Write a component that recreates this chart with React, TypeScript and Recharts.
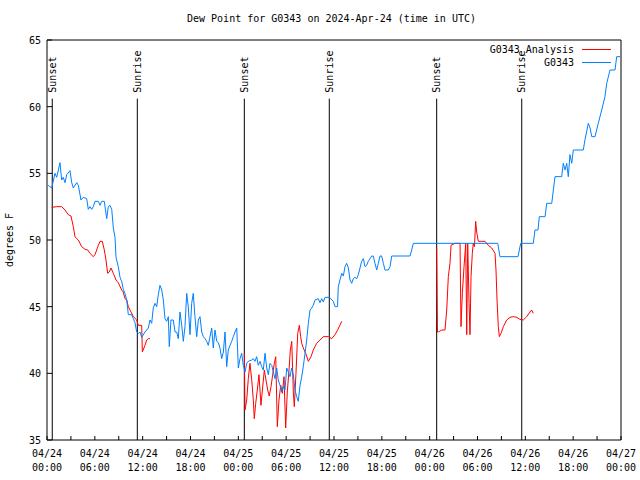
import { LineChart, Line, XAxis, YAxis, ReferenceLine, Legend } from 'recharts';

const FONT = '"DejaVu Sans Mono", monospace';

// hours since 2024-04-24 00:00 UTC, dew point in F
const g0343: [number, number][] = [
  [0.16, 54.1], [0.59, 53.9], [1.0, 55.0], [1.22, 54.7], [1.63, 55.8], [1.84, 54.5], [2.04, 54.7], [2.26, 54.3],
  [2.47, 54.9], [2.89, 55.2], [3.1, 54.3], [3.3, 53.9], [3.73, 54.3], [3.93, 54.1], [4.26, 53.0], [4.55, 53.2],
  [4.98, 53.1], [5.18, 52.3], [5.39, 52.5], [5.61, 52.3], [5.81, 52.5], [6.02, 52.9], [6.44, 52.9], [6.65, 52.6],
  [6.86, 52.9], [7.19, 52.9], [7.49, 51.6], [7.69, 52.5], [7.9, 52.6], [8.12, 52.3], [8.32, 50.9], [8.53, 50.2],
  [8.66, 48.7], [8.94, 48.0], [9.16, 47.2], [9.37, 46.9], [9.57, 46.3], [9.78, 46.0], [10.0, 45.5], [10.2, 44.4],
  [10.62, 44.4], [10.83, 44.1], [11.04, 43.8], [11.25, 43.1], [11.45, 43.0], [11.67, 43.1], [11.88, 42.7], [12.29, 43.1],
  [12.71, 43.4], [12.92, 44.0], [13.13, 43.75], [13.33, 44.9], [13.55, 45.25], [13.76, 45.0], [13.96, 45.9], [14.17, 46.6],
  [14.39, 46.25], [14.59, 45.5], [14.8, 44.1], [15.01, 43.9], [15.22, 44.25], [15.34, 42.0], [15.55, 44.0], [15.84, 44.0],
  [16.06, 43.1], [16.27, 43.1], [16.47, 42.6], [16.68, 44.6], [16.9, 43.6], [17.1, 42.4], [17.31, 43.5], [17.52, 46.0],
  [17.72, 45.0], [17.94, 42.9], [18.15, 45.25], [18.35, 46.0], [18.56, 44.25], [18.78, 42.75], [18.98, 44.0], [19.19, 44.25],
  [19.41, 43.1], [19.61, 42.75], [19.82, 42.6], [20.03, 42.4], [20.23, 42.1], [20.45, 42.75], [20.66, 43.4], [20.86, 41.9],
  [21.07, 43.25], [21.29, 42.4], [21.49, 42.3], [21.7, 41.9], [21.91, 41.1], [22.12, 41.6], [22.33, 43.1], [22.54, 40.5],
  [22.74, 41.75], [22.96, 42.1], [23.17, 42.4], [23.37, 42.75], [23.58, 43.1], [23.8, 43.4], [24.0, 40.4], [24.21, 41.1],
  [24.42, 41.5], [24.62, 40.6], [24.84, 40.1], [25.05, 40.75], [25.25, 40.9], [25.68, 41.0], [25.88, 41.1], [26.09, 40.9],
  [26.3, 41.25], [26.5, 40.6], [26.72, 40.9], [26.93, 40.5], [27.13, 40.25], [27.35, 41.5], [27.56, 40.4], [27.76, 39.9],
  [27.97, 40.75], [28.19, 40.6], [28.39, 40.1], [28.6, 39.6], [28.81, 40.4], [29.01, 39.5], [29.23, 39.1], [29.44, 38.6],
  [29.64, 39.0], [29.85, 38.75], [30.07, 40.4], [30.27, 40.1], [30.48, 39.75], [30.69, 40.4], [30.9, 39.9], [31.11, 38.75],
  [31.32, 38.25], [31.52, 37.9], [31.74, 39.1], [31.95, 39.75], [32.15, 40.5], [32.36, 41.5], [32.58, 42.5], [32.78, 43.75],
  [32.99, 44.75], [33.2, 44.9], [33.4, 45.1], [33.62, 45.5], [34.03, 45.6], [34.24, 45.3], [34.46, 45.6], [34.66, 45.35],
  [34.87, 45.7], [35.41, 45.7], [35.91, 45.4], [36.13, 45.0], [36.44, 45.0], [36.54, 46.5], [36.75, 47.0], [36.97, 47.5],
  [37.17, 47.3], [37.38, 48.0], [37.59, 48.25], [37.8, 47.9], [38.01, 47.0], [38.22, 46.75], [38.42, 47.1], [38.63, 47.2],
  [38.85, 47.1], [39.05, 47.4], [39.26, 47.9], [39.47, 48.4], [39.68, 48.6], [39.89, 48.0], [40.1, 48.1], [40.3, 48.4],
  [40.52, 48.6], [40.73, 48.8], [40.93, 48.8], [41.14, 48.25], [41.36, 47.75], [41.56, 48.25], [41.77, 48.8], [41.98, 48.8],
  [42.19, 48.25], [42.4, 47.75], [42.81, 47.75], [43.03, 48.0], [43.24, 48.8], [45.53, 48.8], [45.75, 49.25], [45.95, 49.75],
  [56.54, 49.75], [56.82, 48.75], [59.08, 48.75], [59.42, 49.75], [61.0, 49.75], [61.21, 50.75], [61.59, 50.75], [61.75, 51.75],
  [62.47, 51.75], [62.68, 52.75], [63.31, 52.75], [63.72, 54.75], [64.56, 54.75], [64.76, 55.75], [64.98, 55.25], [65.19, 55.75],
  [65.39, 54.75], [65.6, 56.4], [65.82, 55.75], [66.02, 56.75], [67.27, 56.75], [67.48, 57.5], [67.9, 58.75], [68.12, 58.4],
  [68.33, 57.75], [68.74, 57.75], [69.15, 58.75], [69.58, 59.75], [69.99, 60.75], [70.21, 61.75], [70.62, 62.75], [71.25, 62.75],
  [71.46, 63.75], [71.88, 63.75],
];

const analysisDay1: [number, number][] = [
  [0.59, 52.45], [1.22, 52.5], [1.84, 52.5], [2.26, 52.25], [2.67, 51.9], [3.01, 51.8], [3.3, 51.0], [3.51, 50.25],
  [3.73, 50.1], [3.93, 50.0], [4.35, 49.5], [4.77, 49.3], [5.11, 49.25], [5.39, 49.0], [5.81, 48.75], [6.02, 48.9],
  [6.23, 49.25], [6.44, 49.6], [6.65, 49.9], [6.94, 49.9], [7.19, 49.25], [7.4, 48.5], [7.61, 47.5], [7.81, 47.6],
  [8.03, 47.9], [8.32, 47.5], [8.66, 47.0], [8.94, 46.8], [9.37, 46.25], [9.57, 46.1], [9.78, 45.6], [10.0, 45.5],
  [10.2, 45.0], [10.41, 44.75], [10.83, 44.25], [11.25, 44.0], [11.45, 43.6], [11.88, 43.6], [11.96, 41.6], [12.29, 42.1],
  [12.51, 42.5], [12.71, 42.6], [12.92, 42.6],
];

const analysisDay2: [number, number][] = [
  [24.75, 41.5], [24.84, 37.25], [25.05, 38.0], [25.25, 39.6], [25.46, 40.75], [25.68, 39.5], [25.88, 38.0], [26.0, 36.6],
  [26.18, 37.75], [26.38, 38.75], [26.59, 39.9], [26.84, 37.6], [27.06, 39.0], [27.26, 40.25], [27.47, 39.5], [27.68, 38.75],
  [27.88, 38.3], [28.1, 39.0], [28.31, 39.9], [28.51, 40.75], [28.69, 41.25], [28.89, 36.0], [29.1, 38.0], [29.32, 39.1],
  [29.52, 38.5], [29.73, 39.75], [29.94, 35.9], [30.14, 38.6], [30.36, 40.25], [30.52, 41.75], [30.7, 42.4], [30.9, 38.6],
  [31.02, 37.5], [31.23, 40.0], [31.45, 43.0], [31.65, 43.6], [31.82, 42.75], [31.95, 42.25], [32.15, 41.9], [32.45, 41.5],
  [32.78, 40.9], [33.12, 41.25], [33.4, 41.75], [33.83, 42.25], [34.24, 42.5], [34.66, 42.75], [35.29, 42.75], [35.71, 42.6],
  [36.13, 42.9], [36.5, 43.3], [36.97, 43.9],
];

const analysisDay3: [number, number][] = [
  [48.88, 49.4], [48.98, 43.1], [49.09, 43.1], [49.51, 43.25], [49.92, 43.25], [50.14, 44.75], [50.34, 47.25], [50.55, 48.25],
  [50.68, 49.6], [51.18, 49.75], [51.81, 49.75], [51.93, 43.5], [52.1, 46.0], [52.31, 48.0], [52.52, 49.75], [52.65, 42.9],
  [52.77, 49.75], [52.94, 45.25], [53.06, 42.9], [53.19, 47.25], [53.35, 49.0], [53.47, 49.75], [53.62, 49.5], [53.77, 51.4],
  [53.9, 50.6], [54.1, 49.9], [54.52, 49.9], [54.94, 49.9], [55.36, 49.6], [55.78, 49.4], [56.2, 49.0], [56.32, 47.75],
  [56.45, 45.5], [56.61, 43.5], [56.74, 42.75], [56.95, 43.0], [57.24, 43.5], [57.66, 44.0], [58.08, 44.2], [58.5, 44.25],
  [58.92, 44.2], [59.33, 44.05], [59.75, 44.0], [60.17, 44.25], [60.59, 44.6], [60.79, 44.75], [61.0, 44.5],
];

const sunEvents: [string, number][] = [
  ['Sunset', 0.66], ['Sunrise', 11.33], ['Sunset', 24.75], ['Sunrise', 35.41], ['Sunset', 48.88], ['Sunrise', 59.55],
];

const xTicks = [0, 3, 6, 9, 12, 15, 18, 21, 24, 27, 30, 33, 36, 39, 42, 45, 48, 51, 54, 57, 60, 63, 66, 69, 72];
const yTicks = [35, 40, 45, 50, 55, 60, 65];
const legendOrder = ['G0343_Analysis', 'G0343'];

const toPoints = (pairs: [number, number][]) => pairs.map(([t, v]) => ({ t, v }));

const blueData = toPoints(g0343);
const redData = [
  ...toPoints(analysisDay1),
  { t: 18, v: null },
  ...toPoints(analysisDay2),
  { t: 42, v: null },
  ...toPoints(analysisDay3),
];

function TimeTick({ x, y, payload }: any) {
  const t = payload.value;
  if (t % 6 !== 0) return null;
  const day = 24 + Math.floor(t / 24);
  const hour = String(t % 24).padStart(2, '0');
  return (
    <g fontFamily={FONT} fontSize={10} fill="#000">
      <text x={x} y={y + 17} textAnchor="middle">{`04/${day}`}</text>
      <text x={x} y={y + 31} textAnchor="middle">{`${hour}:00`}</text>
    </g>
  );
}

function ValueTick({ x, y, payload }: any) {
  return (
    <text x={x} y={y} dy={4} textAnchor="end" fontFamily={FONT} fontSize={10} fill="#000">
      {payload.value}
    </text>
  );
}

function SunLabel({ viewBox, text }: any) {
  if (!viewBox) return null;
  const x = viewBox.x;
  const y = viewBox.y - 6;
  return (
    <text x={x} y={y} transform={`rotate(-90, ${x}, ${y})`} textAnchor="start" dominantBaseline="central"
      fontFamily={FONT} fontSize={10} fill="#000">
      {text}
    </text>
  );
}

function LegendBox({ payload }: any) {
  const items = [...(payload || [])].sort(
    (a: any, b: any) => legendOrder.indexOf(a.value) - legendOrder.indexOf(b.value),
  );
  return (
    <div style={{ fontFamily: FONT, fontSize: 10, color: '#000' }}>
      {items.map((p: any) => (
        <div key={p.value} style={{ display: 'flex', alignItems: 'center', height: 13 }}>
          <span style={{ width: 574, textAlign: 'right', lineHeight: '13px', whiteSpace: 'pre' }}>{p.value}</span>
          <span style={{ marginLeft: 8, width: 29, height: 0, borderTop: `1px solid ${p.color}` }} />
        </div>
      ))}
    </div>
  );
}

export default function App() {
  return (
    <div style={{ position: 'absolute', left: 0, top: 0, width: 640, height: 480, background: '#fff' }}>
      <div style={{ position: 'absolute', left: 0, top: 12, width: 663, textAlign: 'center', fontFamily: FONT, fontSize: 10, lineHeight: '14px', whiteSpace: 'pre' }}>
        Dew Point for G0343 on 2024-Apr-24 (time in UTC)
      </div>
      <div style={{ position: 'absolute', left: -40, top: 233, width: 100, textAlign: 'center', transform: 'rotate(-90deg)', fontFamily: FONT, fontSize: 10, lineHeight: '14px' }}>
        degrees F
      </div>
      <LineChart width={640} height={480} margin={{ top: 40, right: 19, bottom: 0, left: 0 }}>
        <XAxis dataKey="t" type="number" domain={[0, 72]} ticks={xTicks} height={40} stroke="#000"
          tickSize={-4} tickMargin={4} tick={<TimeTick />} interval={0} allowDataOverflow />
        <XAxis xAxisId="top" orientation="top" dataKey="t" type="number" domain={[0, 72]} ticks={xTicks} mirror
          stroke="#000" tickSize={4} tick={false} interval={0} />
        <YAxis type="number" domain={[35, 65]} ticks={yTicks} width={47} stroke="#000"
          tickSize={-5} tickMargin={11} tick={<ValueTick />} interval={0} allowDataOverflow />
        <YAxis yAxisId="right" orientation="right" type="number" domain={[35, 65]} ticks={yTicks} mirror
          stroke="#000" tickSize={5} tick={false} interval={0} />
        <Legend layout="vertical" align="center" verticalAlign="middle" content={<LegendBox />}
          wrapperStyle={{ position: 'absolute', top: 43, left: 0, width: 620 }} />
        {sunEvents.map(([name, t]) => (
          <ReferenceLine key={name + t} segment={[{ x: t, y: 35 }, { x: t, y: 60.6 }]} stroke="#000" strokeWidth={1}
            ifOverflow="visible" label={<SunLabel text={name} />} />
        ))}
        <Line data={redData} dataKey="v" name="G0343_Analysis" stroke="#ff0000" strokeWidth={1} dot={false}
          type="linear" isAnimationActive={false} />
        <Line data={blueData} dataKey="v" name="G0343" stroke="#0080ff" strokeWidth={1} dot={false}
          type="linear" isAnimationActive={false} />
      </LineChart>
    </div>
  );
}
